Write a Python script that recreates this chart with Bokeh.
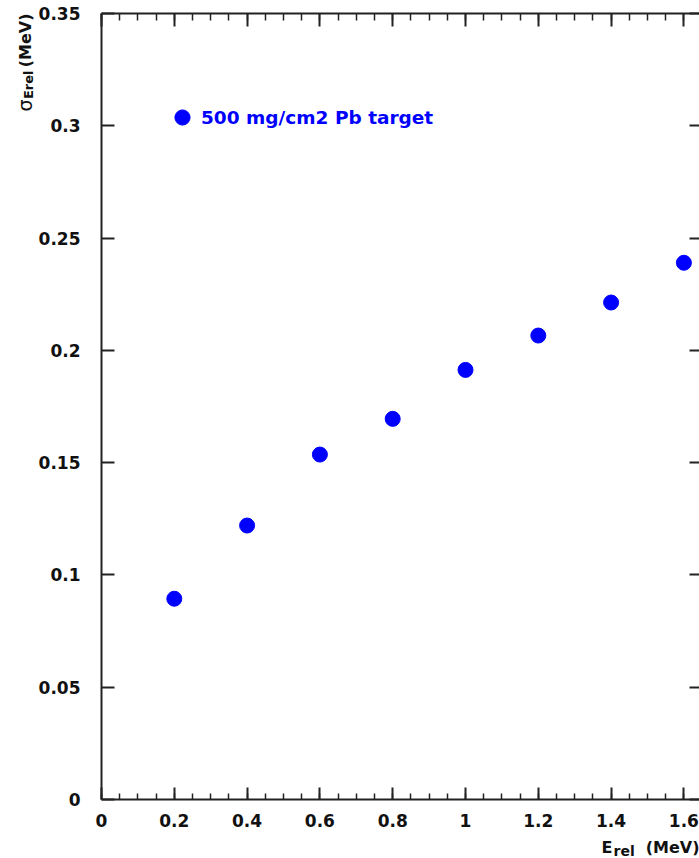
import math
from bokeh.plotting import figure
from bokeh.models import (LinearAxis, FixedTicker, Range1d, Label, Legend,
                          LegendItem, ColumnDataSource)
from bokeh.embed import file_html
from bokeh.resources import INLINE

# ---- data ----
e_rel = [0.2, 0.4, 0.6, 0.8, 1.0, 1.2, 1.4, 1.6]
sigma_erel = [0.0894, 0.122, 0.1536, 0.1695, 0.1913, 0.2066, 0.2213, 0.239]
series_name = "500 mg/cm2 Pb target"

x_ticks = [0, 0.2, 0.4, 0.6, 0.8, 1.0, 1.2, 1.4, 1.6]
x_tick_labels = ["0", "0.2", "0.4", "0.6", "0.8", "1", "1.2", "1.4", "1.6"]
x_minor_ticks = [round(0.05 * i, 2) for i in range(34)]
y_ticks = [0, 0.05, 0.1, 0.15, 0.2, 0.25, 0.3, 0.35]
y_tick_labels = ["0", "0.05", "0.1", "0.15", "0.2", "0.25", "0.3", "0.35"]

x_axis_end = 1.651   # right edge of the (cropped) plot box
y_axis_end = 0.35

FONT = "DejaVu Sans"
AXC = "#222222"
TXT = "#111111"
BLUE = "#0000ff"

W, H = 699, 858
# the frame spans the whole canvas; axes sit at fixed data positions
px_per_x = 364.0
px_per_y = 786.0 / 0.35
x0_px, y0_px = 101.0, 799.0
x_range = Range1d(-x0_px / px_per_x, (W - x0_px) / px_per_x)
y_range = Range1d(-(H - y0_px) / px_per_y, y0_px / px_per_y)

src = ColumnDataSource(dict(x=e_rel, y=sigma_erel))

p = figure(width=W, height=H, x_range=x_range, y_range=y_range,
           output_backend="svg", toolbar_location=None,
           x_axis_location=None, y_axis_location=None, min_border=0)
p.outline_line_color = None
p.background_fill_color = "white"
p.border_fill_color = "white"
for g in p.grid:
    g.visible = False


def make_axis(ticks, minor, labels, loc, bounds, major_in, minor_in, show_labels, line=True):
    ax = LinearAxis(ticker=FixedTicker(ticks=ticks, minor_ticks=minor or []),
                    fixed_location=loc, bounds=bounds)
    ax.axis_line_color = AXC if line else None
    ax.axis_line_width = 2
    ax.major_tick_line_color = AXC
    ax.major_tick_line_width = 2
    ax.major_tick_in = major_in
    ax.major_tick_out = 0
    if minor_in:
        ax.minor_tick_line_color = AXC
        ax.minor_tick_line_width = 1.5
        ax.minor_tick_in = minor_in
        ax.minor_tick_out = 0
    else:
        ax.minor_tick_line_color = None
    if show_labels:
        ax.major_label_overrides = dict(zip(ticks, labels))
        ax.major_label_text_font = FONT
        ax.major_label_text_font_style = "bold"
        ax.major_label_text_font_size = "17px"
        ax.major_label_text_color = TXT
    else:
        ax.major_label_text_color = None
        ax.major_label_standoff = 0
    return ax


bottom = make_axis(x_ticks, x_minor_ticks, x_tick_labels, 0, (0, x_axis_end), 12, 6, True)
bottom.major_label_standoff = 14
p.add_layout(bottom, "below")

top = make_axis(x_ticks, x_minor_ticks, None, y_axis_end, (0, x_axis_end), 13, 7, False)
p.add_layout(top, "above")

left = make_axis(y_ticks, None, y_tick_labels, 0, (0, y_axis_end), 13, 0, True)
left.major_label_standoff = 21
p.add_layout(left, "left")

right = make_axis(y_ticks, None, None, x_axis_end, (0, y_axis_end), 13, 0, False, line=False)
p.add_layout(right, "right")

r = p.scatter("x", "y", source=src, size=15, fill_color=BLUE, line_color=BLUE)

legend = Legend(items=[LegendItem(label=series_name, renderers=[r])],
                location=(163, 722), padding=0, margin=0, spacing=0,
                glyph_width=38, glyph_height=38, label_standoff=-5,
                border_line_color=None, background_fill_alpha=0,
                label_text_font=FONT, label_text_font_style="bold",
                label_text_font_size="18.5px", label_text_color=BLUE)
p.add_layout(legend)

# axis titles (screen units: x from left, y from bottom of the canvas-sized frame)
common = dict(x_units="screen", y_units="screen", text_font=FONT, text_color=TXT,
              text_font_style="bold", text_baseline="alphabetic")
p.add_layout(Label(x=601, y=H - 847, text="E", text_font_size="16px", text_align="left", **common))
p.add_layout(Label(x=613, y=H - 850, text="rel", text_font_size="14px", text_align="left", **common))
p.add_layout(Label(x=699, y=H - 847, text="(MeV)", text_font_size="16px", text_align="right", **common))

p.add_layout(Label(x=25, y=H - 13, text="(MeV)", angle=math.pi / 2, text_font_size="16px",
                   text_align="right", **common))
p.add_layout(Label(x=28, y=H - 70, text="Erel", angle=math.pi / 2, text_font_size="13px",
                   text_align="right", **common))
common_sig = dict(common)
common_sig["text_font_style"] = "normal"
p.add_layout(Label(x=24, y=H - 99, text="σ", angle=math.pi / 2, text_font_size="19px",
                   text_align="right", **common_sig))

open("out.html", "w").write(file_html(p, INLINE))
